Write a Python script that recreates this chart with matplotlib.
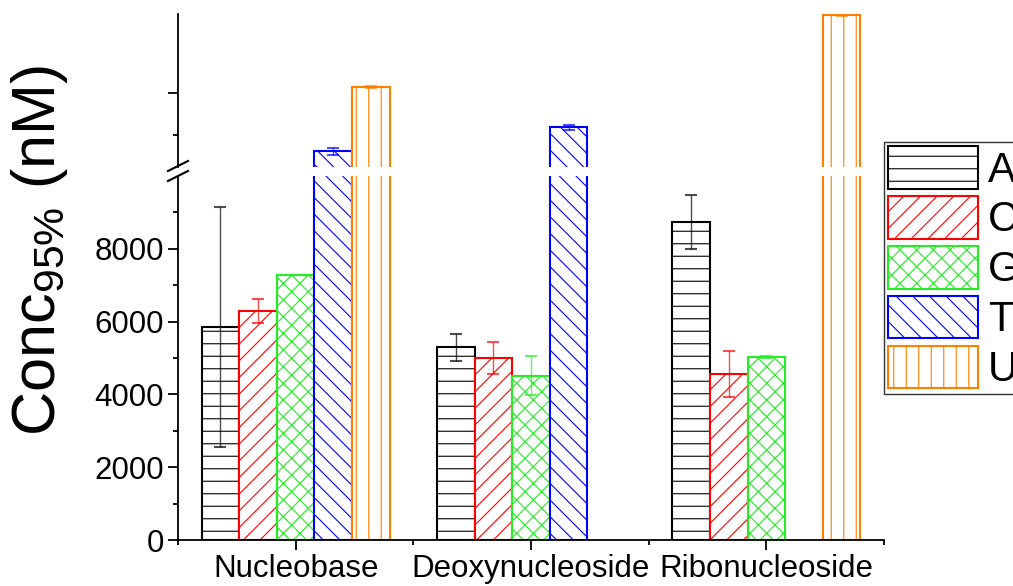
import numpy as np
import matplotlib
matplotlib.use("Agg")
import matplotlib.pyplot as plt
from matplotlib.lines import Line2D
from matplotlib.backend_bases import GraphicsContextBase

# slightly sparser base hatch density to match the reference spacing
_orig_hatch_path = GraphicsContextBase.get_hatch_path
def _hatch_path(self, density=4.5):
    return _orig_hatch_path(self, density)
GraphicsContextBase.get_hatch_path = _hatch_path

plt.rcParams['font.family'] = ['Liberation Sans', 'DejaVu Sans']
plt.rcParams['mathtext.fontset'] = 'custom'
plt.rcParams['mathtext.rm'] = 'Liberation Sans'
plt.rcParams['mathtext.it'] = 'Liberation Sans:italic'
plt.rcParams['hatch.linewidth'] = 0.8

categories = ['Nucleobase', 'Deoxynucleoside', 'Ribonucleoside']
series = ['A', 'C', 'G', 'T', 'U']
A_vals = [5850, 5300, 8740]
A_err = [3290, 370, 740]
C_vals = [6290, 5000, 4560]
C_err = [335, 430, 620]
G_vals = [7275, 4510, 5030]
G_err = [0, 540, 20]
T_vals = [26200, 31900, np.nan]
T_err = [830, 600, np.nan]
U_vals = [41430, np.nan, 58560]
U_err = [240, np.nan, 240]
low_ticks = [0, 2000, 4000, 6000, 8000]

values = [A_vals, C_vals, G_vals, T_vals, U_vals]
errors = [A_err, C_err, G_err, T_err, U_err]
colors = ['#000000', '#FF0000', '#22EE22', '#0000FF', '#FF8000']
hatches = ['--', '///', 'xxx', '\\\\\\', '||']

W, H = 1013, 586
fig = plt.figure(figsize=(W / 100, H / 100), dpi=100)
left = 178 / W
right = 884 / W
ax_lo = fig.add_axes([left, 1 - 540 / H, right - left, (540 - 176) / H])
ax_hi = fig.add_axes([left, 1 - 167 / H, right - left, (167 - 14) / H], sharex=ax_lo)

x = np.arange(1, len(categories) + 1)
bw = 0.16
handles = []
for i, (s, v, e, c, h) in enumerate(zip(series, values, errors, colors, hatches)):
    pos = x + (i - 2) * bw
    for ax in (ax_lo, ax_hi):
        bars = ax.bar(pos, v, width=bw, facecolor='white', edgecolor=c,
                      hatch=h, linewidth=1.5, label=s, zorder=2)
        ax.errorbar(pos, v, yerr=e, fmt='none', ecolor=c, alpha=0.7,
                    elinewidth=1.0, capsize=4.0, capthick=1.5, zorder=3)
    handles.append(bars)

ax_lo.set_ylim(0, 10000)
ax_hi.set_ylim(22400, 58800)
ax_lo.set_xlim(0.5, 3.5)

for ax in (ax_lo, ax_hi):
    ax.spines['top'].set_visible(False)
    ax.spines['right'].set_visible(False)
    ax.spines['left'].set_linewidth(1.3)
    ax.tick_params(axis='both', which='major', direction='out', length=7, width=1.3,
                   labelsize=22.5, pad=3)
    ax.tick_params(axis='both', which='minor', direction='out', length=3.6, width=1.3)
ax_hi.spines['bottom'].set_visible(False)
ax_hi.tick_params(axis='x', which='both', bottom=False, labelbottom=False)
ax_lo.spines['bottom'].set_linewidth(1.3)

ax_lo.set_yticks(low_ticks)
ax_lo.set_yticks([1000, 3000, 5000, 7000, 9000], minor=True)
ax_lo.set_xticks(x)
ax_lo.set_xticklabels(categories, fontsize=22.5)
ax_lo.set_xticks([0.5, 1.5, 2.5, 3.5], minor=True)
ax_lo.tick_params(axis='x', which='major', pad=3)

ax_hi.set_yticks([40000])
ax_hi.set_yticklabels([''])
ax_hi.set_yticks([30000], minor=True)

# break marks on the y axis
for yb in (166, 176):
    fig.add_artist(Line2D([168 / W, 188 / W], [1 - (yb + 5) / H, 1 - (yb - 5) / H],
                          color='black', linewidth=1.5, transform=fig.transFigure))

fig.text(40 / W, 1 - 250 / H, 'Conc$_{95\\%}$ (nM)', rotation=90, fontsize=44,
         ha='center', va='center')

leg = fig.legend(handles=handles, labels=series, loc='upper left',
                 bbox_to_anchor=(884 / W, 1 - 142 / H), bbox_transform=fig.transFigure,
                 fontsize=30, frameon=True, fancybox=False, borderaxespad=0,
                 borderpad=0.1, handlelength=2.15, handleheight=1.2,
                 labelspacing=0.13, handletextpad=0.25)
leg.get_frame().set_edgecolor('black')
leg.get_frame().set_linewidth(1.0)

fig.savefig('out.png', dpi=100)
